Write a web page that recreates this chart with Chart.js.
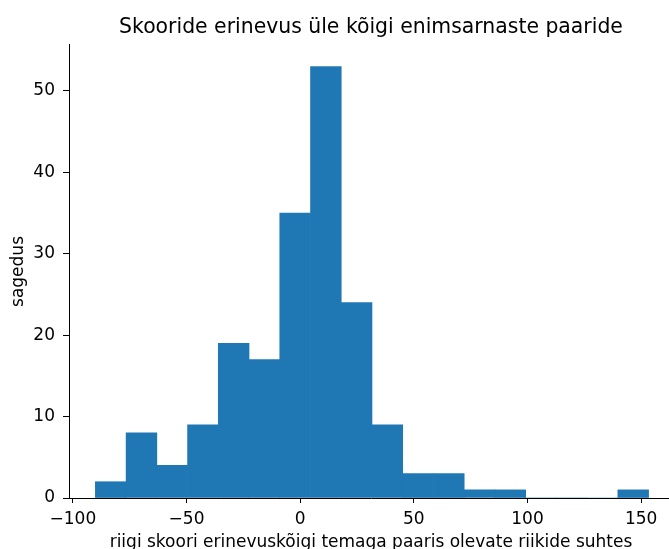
<!DOCTYPE html>
<html>
<head>
<meta charset="utf-8">
<script src="https://cdn.jsdelivr.net/npm/chart.js@4.4.1/dist/chart.umd.min.js"></script>
<style>
  html, body { margin: 0; padding: 0; overflow: hidden; background: #fff; width: 669px; height: 549px; }
  #wrap { position: absolute; left: 0; top: 0; width: 680px; height: 562px; }
</style>
</head>
<body>
<div id="wrap"><canvas id="c" width="680" height="562"></canvas></div>
<script>
// Histogram data
const binEdges = [-90.1, -76.58, -63.06, -49.54, -36.02, -22.5, -8.98, 4.54, 18.06, 31.58,
                  45.1, 58.62, 72.14, 85.66, 99.18, 112.7, 126.22, 139.74, 153.26];
const binCounts = [2, 8, 4, 9, 19, 17, 35, 53, 24, 9, 3, 3, 1, 1, 0, 0, 0, 1];
const xTickValues = [-100, -50, 0, 50, 100, 150];
const yTickValues = [0, 10, 20, 30, 40, 50];
const titleText = 'Skooride erinevus üle kõigi enimsarnaste paaride';
const xLabel = 'riigi skoori erinevuskõigi temaga paaris olevate riikide suhtes';
const yLabel = 'sagedus';

const points = binCounts.map((v, i) => ({ x: (binEdges[i] + binEdges[i + 1]) / 2, y: v }));

const FONT = 'DejaVu Sans';
const minus = s => String(s).replace('-', '\u2212');

new Chart(document.getElementById('c'), {
  type: 'bar',
  data: {
    datasets: [{
      data: points,
      backgroundColor: '#1f77b4',
      borderWidth: 0,
      barPercentage: 1.0,
      categoryPercentage: 1.0
    }]
  },
  options: {
    responsive: false,
    animation: false,
    devicePixelRatio: 1,
    layout: { padding: { left: 0, right: 7, top: 0, bottom: 0 } },
    plugins: {
      legend: { display: false },
      tooltip: { enabled: false },
      title: {
        display: true,
        text: titleText,
        fullSize: false,
        color: '#000',
        font: { family: FONT, size: 20.4, weight: 'normal' },
        padding: { top: 15, bottom: 5.5 }
      }
    },
    scales: {
      x: {
        type: 'linear',
        offset: false,
        min: -101.7,
        max: 164,
        afterBuildTicks: s => { s.ticks = xTickValues.map(v => ({ value: v })); },
        afterFit: s => { s.height = 64; },
        ticks: {
          color: '#000',
          font: { family: FONT, size: 17 },
          padding: 6,
          maxRotation: 0,
          callback: v => minus(v)
        },
        grid: { display: true, offset: false, drawOnChartArea: false, drawTicks: true, tickLength: 5, color: '#000', lineWidth: 1 },
        border: { display: true, color: '#000', width: 1 },
        title: {
          display: true,
          text: xLabel,
          color: '#000',
          font: { family: FONT, size: 17 },
          padding: { top: 0, bottom: 9 }
        }
      },
      y: {
        min: 0,
        max: 55.65,
        afterBuildTicks: s => { s.ticks = yTickValues.map(v => ({ value: v })); },
        afterFit: s => { s.width = 69; },
        ticks: {
          color: '#000',
          font: { family: FONT, size: 17 },
          padding: 8,
          callback: v => minus(v)
        },
        grid: { display: true, offset: false, drawOnChartArea: false, drawTicks: true, tickLength: 6, color: '#000', lineWidth: 1 },
        border: { display: true, color: '#000', width: 1 },
        title: {
          display: true,
          text: yLabel,
          color: '#000',
          font: { family: FONT, size: 17 },
          padding: { top: 8, bottom: 0 }
        }
      }
    }
  }
});
</script>
</body>
</html>
